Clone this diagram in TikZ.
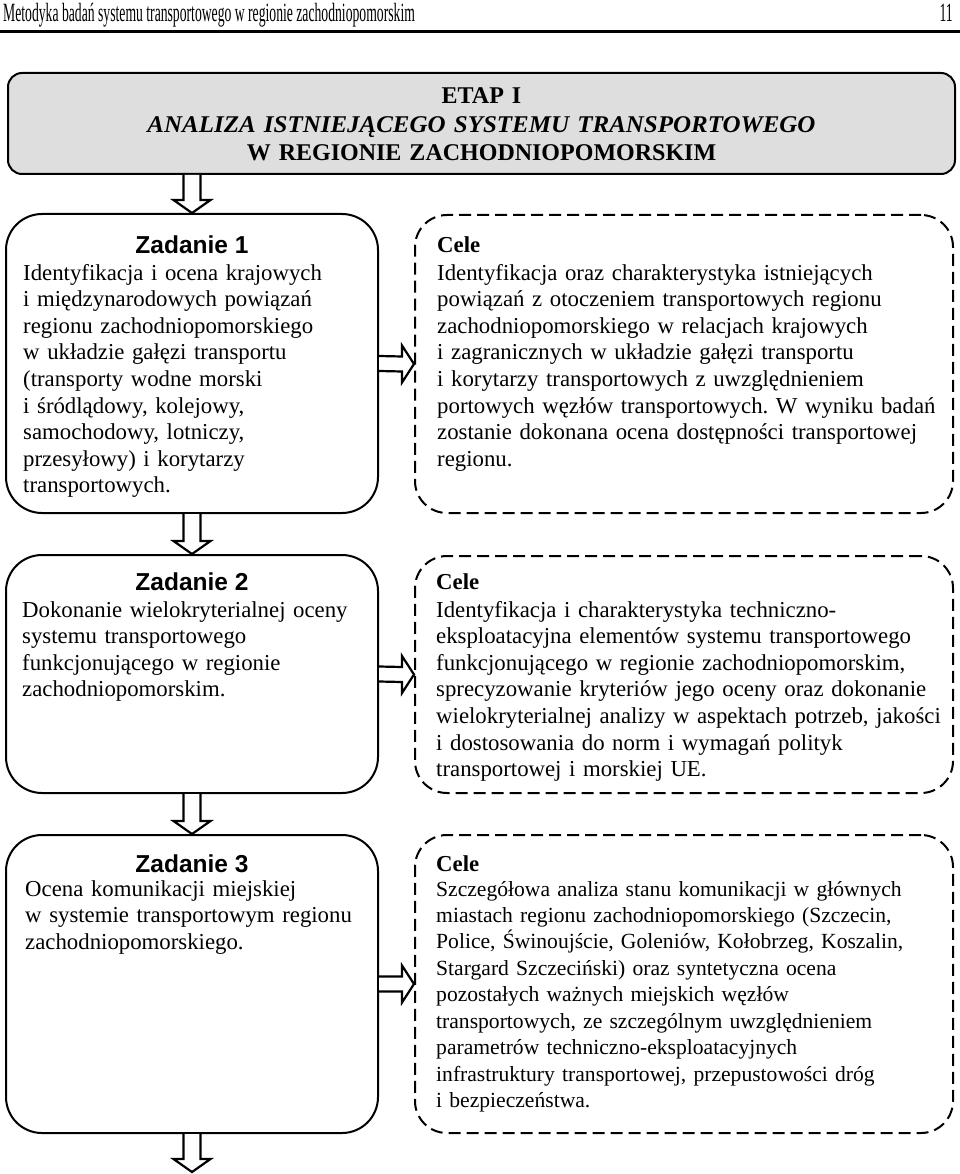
\documentclass[tikz,border=0pt]{standalone}
\usepackage{fontspec}
\setmainfont{Liberation Serif}
\newfontfamily\arialfont{Liberation Sans}
\usetikzlibrary{calc}
\definecolor{boxgray}{RGB}{222,222,222}
\tikzset{
  etapbox/.style={draw, line width=2pt, fill=boxgray, rounded corners=14pt, minimum width=947pt, minimum height=101pt, inner sep=0},
  zbox/.style={draw, line width=2pt, rounded corners=36pt, minimum width=372pt, inner sep=0},
  cbox/.style={draw, line width=2pt, dash pattern=on 12pt off 6pt, rounded corners=32pt, minimum width=538pt, inner sep=0},
  harrow/.style={draw, line width=2.2pt, fill=white},
  ztitle/.style={anchor=base, inner sep=0, font=\arialfont\bfseries\fontsize{24.5}{28}\selectfont},
  ctitle/.style={anchor=base west, inner sep=0, font=\bfseries\fontsize{22.8}{26.6}\selectfont},
  body/.style={anchor=base west, inner sep=0, align=left, text width=540pt, font=\frenchspacing\fontsize{22.8}{26.6}\selectfont},
  bodysmall/.style={anchor=base west, inner sep=0, align=left, text width=540pt, font=\frenchspacing\fontsize{21.6}{26.45}\selectfont},
  hdrtext/.style={inner sep=0, font=\fontsize{26.3}{28}\selectfont}
}
\newcommand\hdown[2]{\draw[harrow] ($(#1)+(-8.5,0)$) -- ($(#2)+(-8.5,-13)$) -- ($(#2)+(-18.5,-13)$) -- (#2) -- ($(#2)+(18.5,-13)$) -- ($(#2)+(8.5,-13)$) -- ($(#1)+(8.5,0)$);}
\newcommand\hright[2]{\draw[harrow] ($(#1)+(0,-7.5)$) -- ($(#2)+(-12,-7.5)$) -- ($(#2)+(-12,-18.5)$) -- (#2) -- ($(#2)+(-12,18.5)$) -- ($(#2)+(-12,7.5)$) -- ($(#1)+(0,7.5)$);}
\begin{document}
\begin{tikzpicture}[x=1pt,y=-1pt]
\useasboundingbox (0,0) rectangle (960,1174);
\fill[white] (0,0) rectangle (960,1174);

% header
\node[hdrtext, anchor=base west] (hdr) at (3,22) {\scalebox{0.52}[1]{Metodyka badań systemu transportowego w regionie zachodniopomorskim}};
\node[hdrtext, anchor=base east] (pg) at (953,22) {\scalebox{0.52}[1]{11}};
\coordinate (rl) at (0,31.5);
\coordinate (rr) at (960,31.5);
\draw[line width=2.5pt] (rl) -- (rr);

% boxes
\node[etapbox] (etap) at (481.5,123.5) {};
\node[zbox, minimum height=299pt] (z1) at (192,363.5) {};
\node[cbox, minimum height=298pt] (c1) at (684,364) {};
\node[zbox, minimum height=238pt] (z2) at (192,674) {};
\node[cbox, minimum height=237pt] (c2) at (684,674.5) {};
\node[zbox, minimum height=298pt] (z3) at (192,984) {};
\node[cbox, minimum height=298pt] (c3) at (684,984) {};

% etap text
\node[anchor=base, align=center, text width=900pt, inner sep=0, font=\bfseries\fontsize{24}{28.5}\selectfont] (etapt) at (481.5,104) {ETAP I\\ \scalebox{1.04}[1]{\textit{ANALIZA ISTNIEJĄCEGO SYSTEMU TRANSPORTOWEGO}}\\ W REGIONIE ZACHODNIOPOMORSKIM};

% zadanie 1
\node[ztitle] (z1t) at (192,253) {Zadanie 1};
\node[body] (z1b) at (23,280) {Identyfikacja i ocena krajowych\\
i międzynarodowych powiązań\\
regionu zachodniopomorskiego\\
w układzie gałęzi transportu\\
(transporty wodne morski\\
i śródlądowy, kolejowy,\\
samochodowy, lotniczy,\\
przesyłowy) i korytarzy\\
transportowych.};

\node[ctitle] (c1t) at (437,252) {Cele};
\node[body] (c1b) at (437,280) {Identyfikacja oraz charakterystyka istniejących\\
powiązań z otoczeniem transportowych regionu\\
zachodniopomorskiego w relacjach krajowych\\
i zagranicznych w układzie gałęzi transportu\\
i korytarzy transportowych z uwzględnieniem\\
portowych węzłów transportowych. W wyniku badań\\
zostanie dokonana ocena dostępności transportowej\\
regionu.};

% zadanie 2
\node[ztitle] (z2t) at (192,590) {Zadanie 2};
\node[body] (z2b) at (22,617) {Dokonanie wielokryterialnej oceny\\
systemu transportowego\\
funkcjonującego w regionie\\
zachodniopomorskim.};

\node[ctitle] (c2t) at (436,589) {Cele};
\node[body] (c2b) at (436,617) {Identyfikacja i charakterystyka techniczno-\\
eksploatacyjna elementów systemu transportowego\\
funkcjonującego w regionie zachodniopomorskim,\\
sprecyzowanie kryteriów jego oceny oraz dokonanie\\
wielokryterialnej analizy w aspektach potrzeb, jakości\\
i dostosowania do norm i wymagań polityk\\
transportowej i morskiej UE.};

% zadanie 3
\node[ztitle] (z3t) at (192,872) {Zadanie 3};
\node[body] (z3b) at (25,896) {Ocena komunikacji miejskiej\\
w systemie transportowym regionu\\
zachodniopomorskiego.};

\node[ctitle] (c3t) at (436,871) {Cele};
\node[bodysmall] (c3b) at (436,896) {Szczegółowa analiza stanu komunikacji w głównych\\
miastach regionu zachodniopomorskiego (Szczecin,\\
Police, Świnoujście, Goleniów, Kołobrzeg, Koszalin,\\
Stargard Szczeciński) oraz syntetyczna ocena\\
pozostałych ważnych miejskich węzłów\\
transportowych, ze szczególnym uwzględnieniem\\
parametrów techniczno-eksploatacyjnych\\
infrastruktury transportowej, przepustowości dróg\\
i bezpieczeństwa.};

% arrows
\coordinate (a0) at (etap.south -| z1.north);
\hdown{a0}{z1.north}
\hdown{z1.south}{z2.north}
\hdown{z2.south}{z3.north}
\coordinate (endb) at (192,1172);
\hdown{z3.south}{endb}
\hright{z1.east}{c1.west}
\hright{z2.east}{c2.west}
\hright{z3.east}{c3.west}
\end{tikzpicture}
\end{document}
